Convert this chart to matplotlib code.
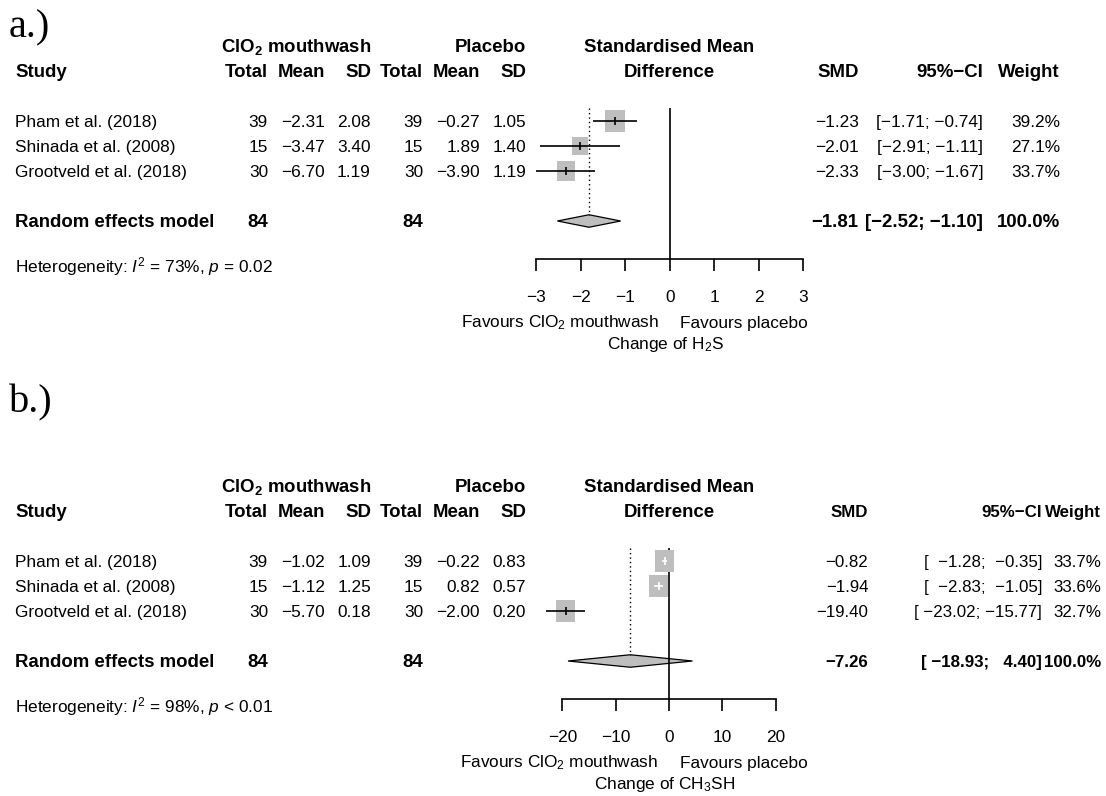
## 메타분석 forest plot 두 개 (H2S / CH3SH)

import numpy as np
import matplotlib
matplotlib.use("Agg")
import matplotlib.pyplot as plt

plt.rcParams['font.family'] = ['Liberation Sans', 'DejaVu Sans']
plt.rcParams['mathtext.fontset'] = 'custom'
plt.rcParams['mathtext.rm'] = 'Liberation Sans'
plt.rcParams['mathtext.it'] = 'Liberation Sans:italic'
plt.rcParams['mathtext.bf'] = 'Liberation Sans:bold'

## 데이터
studies = ["Pham et al. (2018)", "Shinada et al. (2008)", "Grootveld et al. (2018)"]

## a.) H2S
h2s_n_t = [39, 15, 30]
h2s_mean_t = [-2.31, -3.47, -6.70]
h2s_sd_t = [2.08, 3.40, 1.19]
h2s_n_c = [39, 15, 30]
h2s_mean_c = [-0.27, 1.89, -3.90]
h2s_sd_c = [1.05, 1.40, 1.19]
h2s_smd = [-1.23, -2.01, -2.33]
h2s_lo = [-1.71, -2.91, -3.00]
h2s_hi = [-0.74, -1.11, -1.67]
h2s_weight = [39.2, 27.1, 33.7]
h2s_re = [-1.81, -2.52, -1.10]   ## 추정치, 하한, 상한
h2s_i2 = "73%"
h2s_p = "= 0.02"
h2s_ticks = [-3, -2, -1, 0, 1, 2, 3]

## b.) CH3SH
ch3sh_n_t = [39, 15, 30]
ch3sh_mean_t = [-1.02, -1.12, -5.70]
ch3sh_sd_t = [1.09, 1.25, 0.18]
ch3sh_n_c = [39, 15, 30]
ch3sh_mean_c = [-0.22, 0.82, -2.00]
ch3sh_sd_c = [0.83, 0.57, 0.20]
ch3sh_smd = [-0.82, -1.94, -19.40]
ch3sh_lo = [-1.28, -2.83, -23.02]
ch3sh_hi = [-0.35, -1.05, -15.77]
ch3sh_weight = [33.7, 33.6, 32.7]
ch3sh_re = [-7.26, -18.93, 4.40]
ch3sh_i2 = "98%"
ch3sh_p = "< 0.01"
ch3sh_ticks = [-20, -10, 0, 10, 20]

## 레이아웃 (픽셀)
W, H = 1106, 796
ROW0 = 121      ## 첫 연구 행 중심
STEP = 25       ## 행 간격
FS = 12.4
FSB = 13.4
GREY = '#BEBEBE'


def fx(px):
    return px / W


def fy(py):
    return 1 - py / H


def num(v, nd=2):
    return f"{v:.{nd}f}".replace("-", "\u2212")


def ci_text(lo, hi, wl, wh):
    return "[" + num(lo).rjust(wl) + "; " + num(hi).rjust(wh) + "]"


def draw_panel(fig, dy, d):

    row_px = lambda r: ROW0 + dy + r * STEP

    def txt(x, r, s, ha='right', bold=False, size=None):
        fig.text(fx(x), fy(row_px(r) + 6), s, ha=ha, va='baseline',
                 fontweight='bold' if bold else 'normal',
                 fontsize=size if size else (FSB if bold else FS))

    rfs, rfsb = d['rfs']

    ## 헤더
    txt(371, -3, r"ClO$_\mathbf{2}$ mouthwash", bold=True)
    txt(526, -3, "Placebo", bold=True)
    txt(669, -3, "Standardised Mean", ha='center', bold=True)
    txt(15, -2, "Study", ha='left', bold=True)
    for x, s in zip([268, 325, 371, 423, 480, 526], ["Total", "Mean", "SD", "Total", "Mean", "SD"]):
        txt(x, -2, s, bold=True)
    txt(669, -2, "Difference", ha='center', bold=True)
    cx = d['cols']
    txt(cx[0], -2, "SMD", bold=True, size=rfsb)
    txt(cx[1], -2, "95%\u2212CI", bold=True, size=rfsb)
    txt(cx[2], -2, "Weight", bold=True, size=rfsb)

    ## 연구별 행
    wl, wh = d['ciw']
    for i in range(len(studies)):
        txt(15, i, studies[i], ha='left')
        txt(268, i, str(d['n_t'][i]))
        txt(325, i, num(d['mean_t'][i]))
        txt(371, i, num(d['sd_t'][i]))
        txt(423, i, str(d['n_c'][i]))
        txt(480, i, num(d['mean_c'][i]))
        txt(526, i, num(d['sd_c'][i]))
        txt(cx[0], i, num(d['smd'][i]), size=rfs)
        txt(cx[1], i, ci_text(d['lo'][i], d['hi'][i], wl, wh), size=rfs)
        txt(cx[2], i, num(d['weight'][i], 1) + "%", size=rfs)

    ## 랜덤효과 모형
    re_row = 4
    txt(15, re_row, "Random effects model", ha='left', bold=True)
    txt(268, re_row, str(sum(d['n_t'])), bold=True)
    txt(423, re_row, str(sum(d['n_c'])), bold=True)
    txt(cx[0], re_row, num(d['re'][0]), bold=True, size=rfsb)
    txt(cx[1], re_row, ci_text(d['re'][1], d['re'][2], wl, wh), bold=True, size=rfsb)
    txt(cx[2], re_row, "100.0%", bold=True, size=rfsb)

    fig.text(fx(15), fy(row_px(5.83) + 6),
             r"Heterogeneity: $I^2$ = " + d['i2'] + r", $p$ " + d['p'],
             ha='left', va='baseline', fontsize=FS)

    ## forest 영역
    top_px, axis_px = ROW0 + dy - 12.7, ROW0 + dy + 138.3
    lpx, rpx = d['tick_px']
    ax = fig.add_axes([fx(lpx), fy(axis_px), fx(rpx - lpx), (axis_px - top_px) / H])
    ticks = d['ticks']
    ax.set_xlim(ticks[0], ticks[-1])
    ax.set_ylim((axis_px - row_px(0)) / STEP, (top_px - row_px(0)) / STEP)
    ax.patch.set_visible(False)
    for s in ['top', 'left', 'right']:
        ax.spines[s].set_visible(False)
    ax.spines['bottom'].set_linewidth(1.2)
    ax.spines['bottom'].set_bounds(ticks[0], ticks[-1])
    ax.set_yticks([])
    ax.set_xticks(ticks, labels=[num(t, 0) for t in ticks])
    ax.tick_params(axis='x', direction='out', length=8.3, width=1.2, pad=13.8, labelsize=FS)

    ppu = (rpx - lpx) / (ticks[-1] - ticks[0])  ## px per unit
    rows = np.arange(len(studies))
    w = np.array(d['weight'])
    sq_w = 19.3 * np.sqrt(w / w.max())                    ## 정사각형 폭 (px)
    sq_h = sq_w * 1.13
    box = [(-1, -1.13), (1, -1.13), (1, 1.13), (-1, 1.13)]
    ax.axvline(0, color='black', lw=1.2, zorder=1.5)

    est, lo, hi = d['re']
    dh = 0.25
    ax.fill([lo, est, hi, est], [re_row, re_row - dh, re_row, re_row + dh],
            facecolor=GREY, edgecolor='black', lw=0.9, zorder=1, clip_on=False)
    ax.vlines(est, ax.get_ylim()[1], re_row - dh, color='black', lw=1.0,
              linestyles=(0, (1, 2.2)), zorder=1)

    ax.scatter(d['smd'], rows, marker=box, s=(sq_h * 0.72) ** 2, c=GREY,
               linewidths=0, zorder=2, clip_on=False)
    for i in rows:
        inside = (d['hi'][i] - d['lo'][i]) * ppu < sq_w[i]
        col = 'white' if inside else 'black'
        ax.hlines(i, d['lo'][i], d['hi'][i], color=col, lw=1.2, zorder=3, clip_on=False)
        ax.vlines(d['smd'][i], i - 0.15, i + 0.15, color=col, lw=1.2, zorder=3, clip_on=False)

    ## x축 라벨
    zpx = lpx + (0 - ticks[0]) * ppu
    fig.text(fx(zpx - 10.5), fy(row_px(8.03) + 6), r"Favours ClO$_2$ mouthwash",
             ha='right', va='baseline', fontsize=FS)
    fig.text(fx(zpx + 10.5), fy(row_px(8.03) + 6), "Favours placebo",
             ha='left', va='baseline', fontsize=FS)
    fig.text(fx(zpx - 4), fy(row_px(8.89) + 6), d['xlab'],
             ha='center', va='baseline', fontsize=FS)

    return ax


fig = plt.figure(figsize=(W / 100, H / 100), dpi=100)

panel_a = dict(n_t=h2s_n_t, mean_t=h2s_mean_t, sd_t=h2s_sd_t, n_c=h2s_n_c,
               mean_c=h2s_mean_c, sd_c=h2s_sd_c, smd=h2s_smd, lo=h2s_lo, hi=h2s_hi,
               weight=h2s_weight, re=h2s_re, i2=h2s_i2, p=h2s_p, ticks=h2s_ticks,
               tick_px=(536, 803.3), cols=(858.5, 983.3, 1060), ciw=(5, 5),
               rfs=(FS, FSB), xlab=r"Change of H$_2$S")
panel_b = dict(n_t=ch3sh_n_t, mean_t=ch3sh_mean_t, sd_t=ch3sh_sd_t, n_c=ch3sh_n_c,
               mean_c=ch3sh_mean_c, sd_c=ch3sh_sd_c, smd=ch3sh_smd, lo=ch3sh_lo, hi=ch3sh_hi,
               weight=ch3sh_weight, re=ch3sh_re, i2=ch3sh_i2, p=ch3sh_p, ticks=ch3sh_ticks,
               tick_px=(562.3, 775.7), cols=(868.3, 1042, 1101), ciw=(7, 6),
               rfs=(12.2, 12.2), xlab=r"Change of CH$_3$SH")

draw_panel(fig, 0, panel_a)
draw_panel(fig, 440, panel_b)

fig.text(fx(9), fy(37.5), "a.)", family='Liberation Serif', fontsize=29, va='baseline')
fig.text(fx(9), fy(412.5), "b.)", family='Liberation Serif', fontsize=29, va='baseline')

plt.savefig("out.png", dpi=100)
plt.close(fig)
